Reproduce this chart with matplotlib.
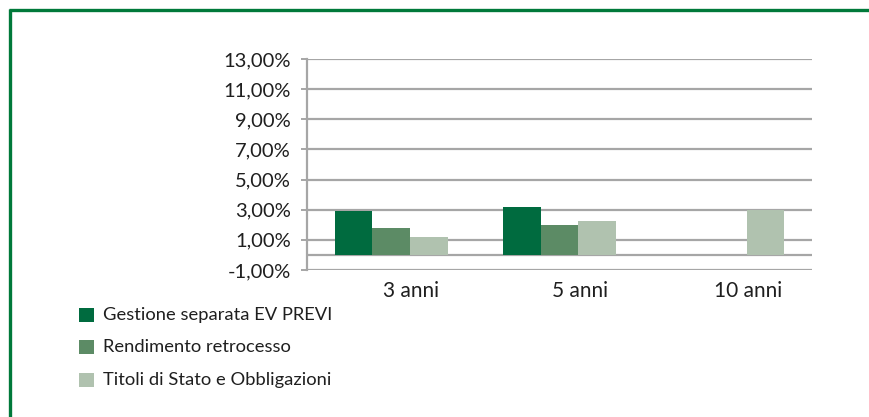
import matplotlib
matplotlib.use("Agg")
import matplotlib.pyplot as plt
from matplotlib.patches import Rectangle
from matplotlib.lines import Line2D
import numpy as np

plt.rcParams['font.family'] = ['Lato', 'DejaVu Sans']

categories = ["3 anni", "5 anni", "10 anni"]
series_names = ["Gestione separata EV PREVI", "Rendimento retrocesso", "Titoli di Stato e Obbligazioni"]
gestione = [2.90, 3.15, np.nan]
rendimento = [1.78, 2.00, np.nan]
titoli = [1.22, 2.27, 3.00]
yticks = [-1, 1, 3, 5, 7, 9, 11, 13]
ytick_labels = ["-1,00%", "1,00%", "3,00%", "5,00%", "7,00%", "9,00%", "11,00%", "13,00%"]
colors = ["#006B3F", "#5C8B65", "#B0C2AF"]

W, H = 870, 417
fig = plt.figure(figsize=(W / 100, H / 100), dpi=100)
fig.patch.set_facecolor("white")

ax = fig.add_axes([307 / W, 1 - 270 / H, (812 - 307) / W, (270 - 59) / H])
x = np.arange(len(categories))
bw = 0.224
for i, (vals, c) in enumerate(zip([gestione, rendimento, titoli], colors)):
    ax.bar(x + (i - 1) * bw, vals, width=bw, color=c, zorder=3, linewidth=0)

ax.set_xlim(-0.5, len(categories) - 0.5)
ax.set_ylim(-1, 13)
ax.set_yticks(yticks)
ax.set_yticklabels(ytick_labels)
ax.yaxis.grid(True, color="#A6A6A6", linewidth=1.6, zorder=0)
ax.axhline(0, color="#A6A6A6", linewidth=1.6, zorder=2)
ax.set_xticks(x + 0.12)
ax.set_xticklabels(categories)
ax.tick_params(axis="x", length=0, pad=8, labelsize=15, labelcolor="#1f1f1f")
ax.tick_params(axis="y", length=4, width=1.4, color="#A6A6A6", pad=7.5, labelsize=14.5, labelcolor="#1f1f1f")
for s in ["top", "right", "bottom"]:
    ax.spines[s].set_visible(False)
ax.spines["left"].set_color("#A6A6A6")
ax.spines["left"].set_linewidth(1.6)

# Legend (manual layout)
leg_y = [315, 347, 380]
for name, c, yc in zip(series_names, colors, leg_y):
    fig.patches.append(Rectangle((79 / W, 1 - (yc + 7) / H), 15 / W, 14 / H,
                                 transform=fig.transFigure, facecolor=c, edgecolor="none"))
    fig.text(103 / W, 1 - yc / H, name, ha="left", va="center", fontsize=13.2, color="#1f1f1f")

# Green frame (top and left)
fig.add_artist(Line2D([9.5 / W, 1.0], [1 - 10 / H, 1 - 10 / H], transform=fig.transFigure,
                      color="#00793A", linewidth=2.4, solid_capstyle="butt"))
fig.add_artist(Line2D([10 / W, 10 / W], [0, 1 - 9 / H], transform=fig.transFigure,
                      color="#00793A", linewidth=2.4, solid_capstyle="butt"))

fig.savefig("out.png", dpi=100)
